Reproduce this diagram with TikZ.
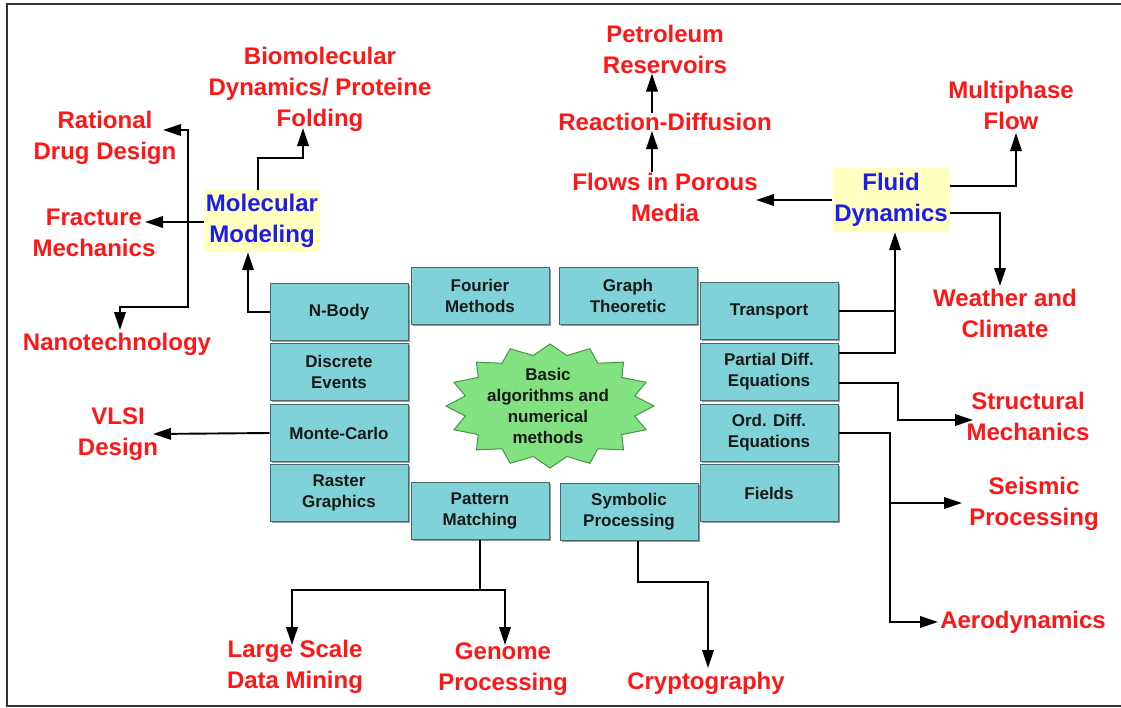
\documentclass[tikz,border=0pt]{standalone}
\usepackage{fontspec}
\setmainfont{Liberation Sans}
\usetikzlibrary{arrows.meta,shadows}
\definecolor{labelred}{RGB}{255,22,22}
\definecolor{labelblue}{RGB}{28,28,240}
\definecolor{boxfill}{RGB}{127,210,215}
\definecolor{boxline}{RGB}{72,106,110}
\definecolor{starfill}{RGB}{130,226,130}
\definecolor{starline}{RGB}{70,150,70}
\definecolor{notefill}{RGB}{255,255,192}
\definecolor{framegray}{RGB}{50,50,50}
\tikzset{
  algbox/.style={draw=boxline, line width=1pt, fill=boxfill,
    minimum width=138pt, minimum height=57pt, inner sep=0pt, align=center,
    font=\bfseries\fontsize{17}{21}\selectfont, text=black!90,
    drop shadow={shadow xshift=1.5pt, shadow yshift=-1.5pt, fill=black!40, opacity=1}},
  app/.style={text=labelred, align=center, inner sep=0pt,
    font=\bfseries\fontsize{24}{31}\selectfont},
  area/.style={fill=notefill, text=labelblue, align=center, inner sep=0pt,
    font=\bfseries\fontsize{24}{31}\selectfont},
  link/.style={draw=black, line width=1.9pt},
  arr/.style={link, -{Triangle[length=18pt,width=11.5pt]}},
}
\begin{document}
\begin{tikzpicture}[x=1pt,y=-1pt]
  \fill[white] (0,0) rectangle (1121,707);
  \useasboundingbox (0,0) rectangle (1121,707);
  \draw[framegray, line width=2pt] (1121,4) -- (7,4) -- (7,706) -- (1121,706);

  % central star
  \draw[fill=starfill, draw=starline, line width=1pt]
    plot[variable=\k, samples at={0,...,31}]
      ({550+104*(1-0.17*mod(\k,2))*cos(90+\k*11.25)},
       {406+62*(1-0.17*mod(\k,2))*sin(90+\k*11.25)}) -- cycle;
  \node[align=center, inner sep=0pt, font=\bfseries\fontsize{17}{21}\selectfont, text=black!90]
    (core) at (548,406) {Basic\\algorithms and\\numerical\\methods};

  % algorithm boxes
  \node[algbox] (nbody)     at (339,312) {N-Body};
  \node[algbox] (events)    at (339,372) {Discrete\\Events};
  \node[algbox] (monte)     at (339,433) {Monte-Carlo};
  \node[algbox] (raster)    at (339,493) {Raster\\Graphics};
  \node[algbox] (fourier)   at (480,296) {Fourier\\Methods};
  \node[algbox] (graph)     at (628,296) {Graph\\Theoretic};
  \node[algbox] (transport) at (769,311) {Transport};
  \node[algbox] (pde)       at (769,372) {Partial Diff.\\Equations};
  \node[algbox] (ode)       at (769,433) {Ord. Diff.\\Equations};
  \node[algbox] (fields)    at (769,493) {Fields};
  \node[algbox] (pattern)   at (480,511) {Pattern\\Matching};
  \node[algbox] (symbolic)  at (629,512) {Symbolic\\Processing};

  % highlighted areas
  \node[area, minimum width=116pt, minimum height=62pt] (mm) at (262,221) {Molecular\\Modeling};
  \node[area, minimum width=117pt, minimum height=64pt] (fd) at (891,200) {Fluid\\Dynamics};

  % applications
  \node[app] (biomol)   at (320,89)  {Biomolecular\\Dynamics/ Proteine\\Folding};
  \node[app] (drug)     at (105,138) {Rational\\Drug Design};
  \node[app] (fracture) at (94,233)  {Fracture\\Mechanics};
  \node[app] (nano)     at (117,344) {Nanotechnology};
  \node[app] (vlsi)     at (118,434) {VLSI\\Design};
  \node[app] (petro)    at (665,49)  {Petroleum\\Reservoirs};
  \node[app] (reaction) at (665,122) {Reaction-Diffusion};
  \node[app] (porous)   at (665,197) {Flows in Porous\\Media};
  \node[app] (multi)    at (1011,105) {Multiphase\\Flow};
  \node[app] (weather)  at (1005,313) {Weather and\\Climate};
  \node[app] (struct)   at (1028,416) {Structural\\Mechanics};
  \node[app] (seismic)  at (1034,504) {Seismic\\Processing};
  \node[app] (aero)     at (1023,622) {Aerodynamics};
  \node[app] (mining)   at (295,667) {Large Scale\\Data Mining};
  \node[app] (genome)   at (503,669) {Genome\\Processing};
  \node[app] (crypto)   at (706,683) {Cryptography};

  % arrow tips and junctions
  \coordinate (toFolding) at (303,128);
  \coordinate (toFracture) at (145,222);
  \coordinate (jDrug) at (188,222);
  \coordinate (toDrug) at (163,130);
  \coordinate (toNano) at (120,330);
  \coordinate (toVLSI) at (153,434);
  \coordinate (toPorous) at (756,200);
  \coordinate (toMulti) at (1016,133);
  \coordinate (toWeather) at (1000,286);
  \coordinate (toStruct) at (973,420);
  \coordinate (jOde) at (890,503);
  \coordinate (toSeismic) at (962,503);
  \coordinate (toAero) at (938,622);
  \coordinate (jPattern) at (480,590);
  \coordinate (toMining) at (292,645);
  \coordinate (toGenome) at (505,645);
  \coordinate (toCrypto) at (708,668);

  % connectors
  \draw[arr] (nbody.west) -| ([xshift=-14pt]mm.south);
  \draw[arr] ([xshift=-4pt]mm.north) |- (303,158) -- (toFolding);
  \draw[arr] (mm.west |- jDrug) -- (toFracture);
  \draw[arr] (jDrug) |- (toDrug);
  \draw[arr] (jDrug) |- (120,307) -- (toNano);
  \draw[arr] (monte.west) -- (toVLSI);

  \draw[arr] (fd.west) -- (toPorous);
  \draw[arr] ([xshift=-13pt]porous.north) -- ([xshift=-13pt]reaction.south);
  \draw[arr] ([xshift=-13pt]reaction.north) -- ([xshift=-13pt]petro.south);
  \draw[arr] ([yshift=14pt]fd.east) -| (toMulti);
  \draw[arr] ([yshift=-13pt]fd.east) -| (toWeather);

  \draw[link] (transport.east) -- ++(57,0);
  \draw[arr] ([yshift=19pt]pde.east) -| ([xshift=4pt]fd.south);
  \draw[arr] ([yshift=-11pt]pde.east) -| (898,420) -- (toStruct);
  \draw[arr] (ode.east) -| (890,622) -- (toAero);
  \draw[arr] (jOde) -- (toSeismic);

  \draw[link] (pattern.south) -- (jPattern);
  \draw[arr] (jPattern) -| (toMining);
  \draw[arr] (jPattern) -| (toGenome);
  \draw[arr] ([xshift=9pt]symbolic.south) |- (708,582) -- (toCrypto);
\end{tikzpicture}
\end{document}
